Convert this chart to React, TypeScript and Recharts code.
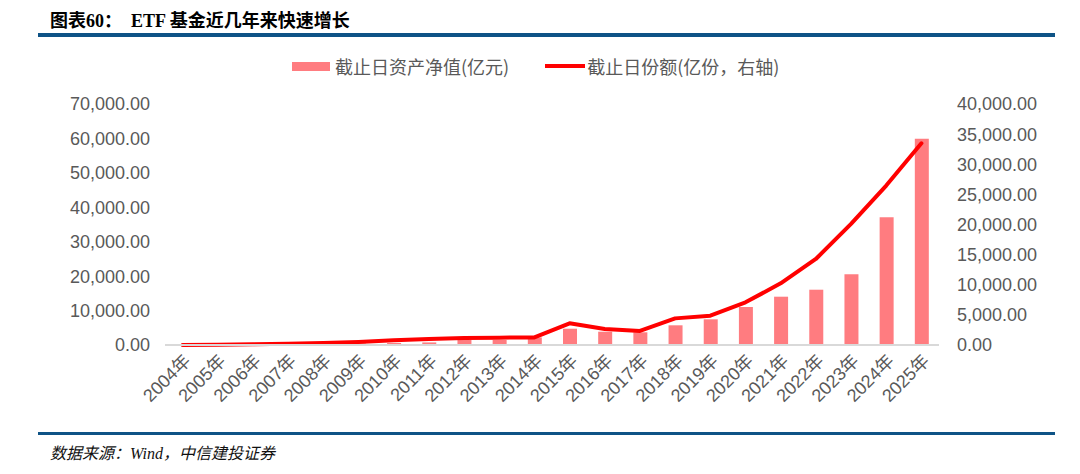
import React from "react";
import { ComposedChart, Bar, Line, XAxis, YAxis } from "recharts";

const years = ["2004年","2005年","2006年","2007年","2008年","2009年","2010年","2011年","2012年","2013年","2014年","2015年","2016年","2017年","2018年","2019年","2020年","2021年","2022年","2023年","2024年","2025年"];
const navValues = [20, 50, 90, 250, 250, 450, 600, 750, 1450, 1450, 2200, 4730, 3860, 3690, 5720, 7460, 11040, 14030, 16060, 20530, 37090, 59920];
const shareValues = [20, 55, 110, 220, 330, 500, 775, 1000, 1160, 1220, 1250, 3600, 2660, 2330, 4420, 4870, 7080, 10230, 14280, 20100, 26460, 33480];
const leftTicks = [0, 10000, 20000, 30000, 40000, 50000, 60000, 70000];
const rightTicks = [0, 5000, 10000, 15000, 20000, 25000, 30000, 35000, 40000];
const navLabel = "截止日资产净值(亿元)";
const shareLabel = "截止日份额(亿份，右轴)";

const data = years.map((y, i) => ({ year: y, nav: navValues[i], share: shareValues[i] }));

const fmt = (v: number) => v.toLocaleString("en-US", { minimumFractionDigits: 2, maximumFractionDigits: 2 });

const FONT = "'Liberation Sans', Arial, 'Noto Sans CJK SC', sans-serif";
const GRAY = "#595959";

export default function App() {
  return (
    <div style={{ position: "absolute", left: 0, top: 0, width: 1080, height: 474, background: "#fff", overflow: "hidden" }}>
      <div style={{ position: "absolute", left: 50, top: 6, fontSize: 18, fontWeight: "bold", color: "#000", fontFamily: "'Liberation Serif', 'Noto Sans CJK SC', serif", whiteSpace: "nowrap" }}>
        图表60：&nbsp;&nbsp;ETF 基金近几年来快速增长
      </div>
      <div style={{ position: "absolute", left: 38, top: 33, width: 1017, height: 4, background: "#0e5386" }} />
      <div style={{ position: "absolute", left: 292, top: 54, height: 24, display: "flex", alignItems: "center", fontFamily: "'Noto Sans CJK SC', sans-serif", fontSize: 18, color: GRAY, whiteSpace: "nowrap" }}>
        <span style={{ display: "inline-block", width: 38, height: 9, background: "#ff7c80", marginRight: 5 }} />
        <span>{navLabel}</span>
        <span style={{ display: "inline-block", width: 40, height: 4, background: "#ff0000", marginLeft: 36, marginRight: 2 }} />
        <span>{shareLabel}</span>
      </div>
      <div style={{ position: "absolute", left: 0, top: 0 }}>
        <ComposedChart width={1080} height={474} data={data} margin={{ top: 104, right: 41, bottom: 49, left: 65 }}>
          <XAxis
            dataKey="year"
            interval={0}
            angle={-45}
            textAnchor="end"
            tickLine={false}
            axisLine={{ stroke: "#d9d9d9", strokeWidth: 2 }}
            tick={{ fill: GRAY, fontSize: 18, fontFamily: FONT }}
            height={80}
          />
          <YAxis
            yAxisId="left"
            orientation="left"
            width={100}
            domain={[0, 70000]}
            ticks={leftTicks}
            tickFormatter={fmt}
            axisLine={false}
            tickLine={false}
            tickMargin={9}
            tick={{ fill: GRAY, fontSize: 18, fontFamily: FONT }}
          />
          <YAxis
            yAxisId="right"
            orientation="right"
            width={100}
            domain={[0, 40000]}
            ticks={rightTicks}
            tickFormatter={fmt}
            axisLine={false}
            tickLine={false}
            tickMargin={12}
            tick={{ fill: GRAY, fontSize: 18, fontFamily: FONT, textAnchor: "start" }}
          />
          <Bar yAxisId="left" dataKey="nav" name={navLabel} fill="#ff7c80" barSize={14} isAnimationActive={false} />
          <Line yAxisId="right" dataKey="share" name={shareLabel} type="linear" stroke="#ff0000" strokeWidth={4} dot={false} isAnimationActive={false} strokeLinejoin="round" strokeLinecap="round" />
        </ComposedChart>
      </div>
      <div style={{ position: "absolute", left: 38, top: 432, width: 1017, height: 3, background: "#0e5386" }} />
      <div style={{ position: "absolute", left: 50, top: 440, fontSize: 16, fontStyle: "italic", color: "#111", fontFamily: "'Liberation Serif', 'Noto Sans CJK SC', serif", whiteSpace: "nowrap" }}>
        数据来源：Wind，中信建投证券
      </div>
    </div>
  );
}
